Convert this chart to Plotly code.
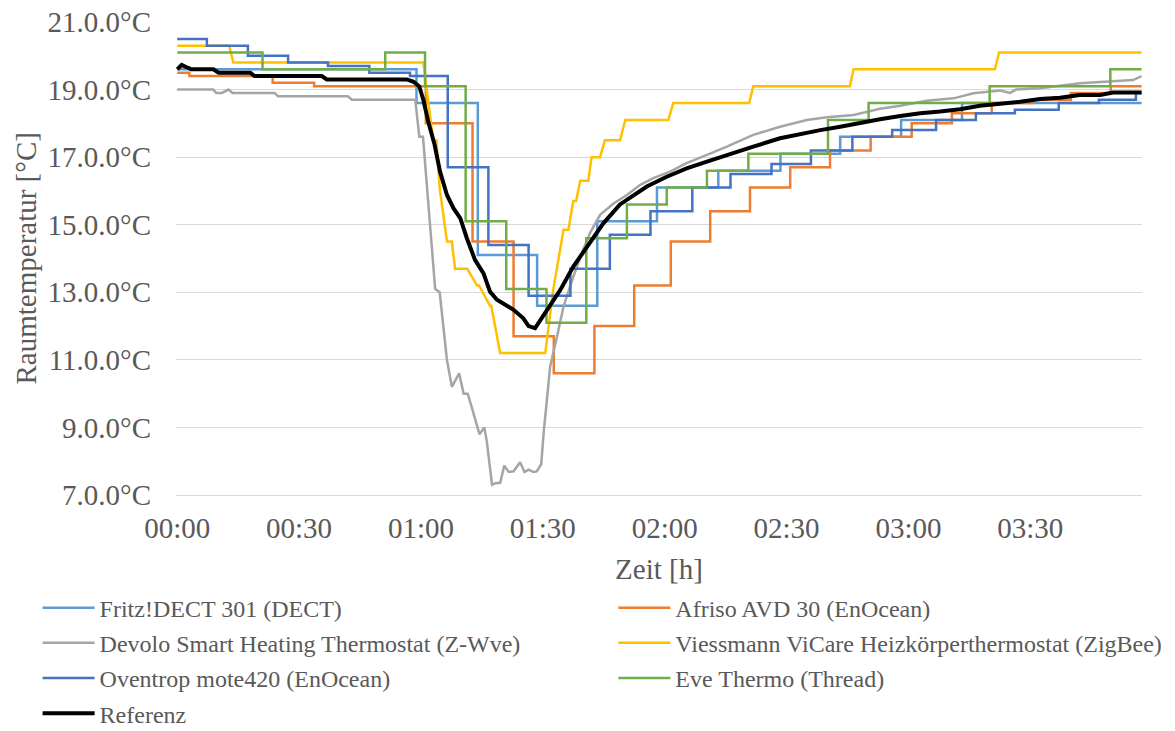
import plotly.graph_objects as go

# ---------------- data ----------------
time_ticks = [0, 30, 60, 90, 120, 150, 180, 210]
time_labels = ["00:00", "00:30", "01:00", "01:30", "02:00", "02:30", "03:00", "03:30"]
temp_ticks = [7, 9, 11, 13, 15, 17, 19, 21]
temp_labels = ["7.0.0°C", "9.0.0°C", "11.0.0°C", "13.0.0°C", "15.0.0°C",
               "17.0.0°C", "19.0.0°C", "21.0.0°C"]

# step series: time (min) at which the value changes, and the new value
fritz_t = [0, 58.9, 74.0, 88.6, 103.4, 118.1, 133.2, 148.5, 163.2, 178.2, 193.2, 237.4]
fritz_v = [19.6, 18.6, 14.1, 12.6, 15.1, 16.1, 16.6, 17.1, 17.6, 18.1, 18.6, 18.6]

afriso_t = [0, 3.0, 23.5, 33.7, 61.2, 72.7, 82.8, 92.7, 102.7, 112.5, 121.5, 131.2,
            141.0, 150.9, 160.7, 170.7, 180.8, 190.7, 200.5, 210.5, 220.0, 229.8, 237.4]
afriso_v = [19.5, 19.4, 19.2, 19.1, 18.0, 14.5, 11.7, 10.6, 12.0, 13.2, 14.5, 15.4,
            16.1, 16.7, 17.2, 17.6, 18.0, 18.3, 18.6, 18.7, 18.9, 19.1, 19.1]

oventrop_t = [0, 7.3, 17.4, 27.3, 37.1, 47.3, 57.3, 66.6, 76.6, 86.5, 96.8, 106.5,
              116.5, 126.8, 136.2, 146.3, 156.0, 166.2, 176.0, 186.8, 196.6, 206.2,
              217.0, 226.9, 236.0, 237.4]
oventrop_v = [20.5, 20.3, 20.0, 19.8, 19.7, 19.5, 19.4, 16.7, 14.4, 12.9, 13.7, 14.7,
              15.4, 16.1, 16.5, 16.8, 17.2, 17.6, 17.8, 18.1, 18.3, 18.4,
              18.6, 18.7, 18.9, 18.9]

eve_t = [0, 21.0, 51.2, 61.0, 71.0, 81.0, 90.9, 100.7, 110.7, 120.5, 130.4, 140.6,
         160.2, 170.2, 200.0, 229.7, 237.4]
eve_v = [20.1, 19.6, 20.1, 19.1, 15.1, 13.1, 12.1, 14.6, 15.6, 16.1, 16.6, 17.1,
         18.1, 18.6, 19.1, 19.6, 19.6]

# piecewise-linear series
viessmann_t = [0, 12.8, 13.8, 60.6, 63.0, 63.8, 64.6, 66.4, 67.6, 68.4, 71.4, 73.8,
               74.3, 77.0, 77.3, 79.5, 90.6, 92.6, 95.1, 96.3, 97.5, 98.2, 99.2,
               101.2, 102.0, 104.1, 105.3, 109.0, 110.3, 120.9, 122.1, 140.8, 141.8,
               165.6, 166.5, 201.3, 202.3, 237.4]
viessmann_v = [20.3, 20.3, 19.8, 19.8, 17.5, 17.5, 16.1, 14.5, 14.5, 13.7, 13.7, 13.2,
               13.2, 12.6, 12.6, 11.2, 11.2, 13.1, 14.85, 14.85, 15.7, 15.7, 16.3,
               16.3, 17.0, 17.0, 17.5, 17.5, 18.1, 18.1, 18.6, 18.6, 19.1,
               19.1, 19.6, 19.6, 20.1, 20.1]

devolo_t = [0, 8.9, 9.6, 11.0, 12.6, 13.6, 24.0, 24.8, 42.0, 43.0, 58.6, 59.6, 60.5,
            63.5, 64.6, 66.4, 67.6, 69.4, 70.5, 71.5, 72.5, 74.4, 75.6, 76.2, 77.5,
            78.3, 79.5, 80.5, 81.6, 82.8, 84.4, 85.5, 86.5, 87.7, 88.5, 89.6, 90.2,
            91.0, 91.8, 93.5, 95.1, 97.5, 99.6, 101.6, 104.1, 107.4, 110.7, 114.0,
            117.2, 121.3, 125.4, 130.4, 135.3, 141.8, 148.4, 155.0, 159.9, 166.5,
            173.0, 178.0, 184.5, 191.1, 196.0, 202.6, 205.0, 206.5, 212.4, 222.2,
            235.3, 237.4]
devolo_v = [19.0, 19.0, 18.9, 18.9, 19.0, 18.9, 18.9, 18.8, 18.8, 18.7, 18.7, 17.6, 17.6,
            13.1, 13.0, 11.0, 10.2, 10.6, 10.0, 10.0, 9.6, 8.8, 9.0, 8.6, 7.3,
            7.35, 7.36, 7.87, 7.68, 7.70, 7.97, 7.68, 7.75, 7.68, 7.70, 7.91, 8.83,
            9.9, 10.8, 11.69, 12.58, 13.46, 14.16, 14.75, 15.29, 15.63, 15.88, 16.18,
            16.38, 16.57, 16.82, 17.07, 17.31, 17.66, 17.9, 18.1, 18.18, 18.25,
            18.43, 18.52, 18.67, 18.74, 18.89, 18.97, 18.9, 19.0, 19.04, 19.19,
            19.28, 19.4]

ref_t = [0, 1.1, 2.7, 3.5, 8.9, 10.2, 18.0, 19.0, 35.6, 36.8, 56.5, 58.2, 59.6, 60.6,
         61.9, 63.3, 64.7, 66.4, 68.0, 69.7, 71.3, 73.3, 75.4, 77.0, 78.7, 80.7, 82.8,
         85.2, 86.5, 88.1, 91.0, 94.3, 97.5, 100.8, 104.9, 109.0, 112.3, 115.6, 120.5,
         125.4, 130.4, 135.3, 141.8, 148.4, 153.3, 158.3, 163.2, 168.1, 173.0, 178.0,
         182.9, 187.8, 192.7, 197.6, 202.6, 207.5, 212.4, 217.3, 222.2, 227.2, 230.4,
         237.4]
ref_v = [19.6, 19.73, 19.64, 19.6, 19.6, 19.5, 19.5, 19.4, 19.4, 19.3, 19.3, 19.23, 19.09,
         18.69, 18.0, 17.4, 16.57, 15.88, 15.49, 15.19, 14.6, 13.96, 13.56, 13.02, 12.78,
         12.63, 12.48, 12.23, 12.0, 11.94, 12.48, 13.07, 13.76, 14.35, 15.04, 15.6,
         15.88, 16.13, 16.42, 16.67, 16.87, 17.07, 17.31, 17.56, 17.69, 17.8, 17.9,
         18.02, 18.12, 18.22, 18.3, 18.35, 18.42, 18.52, 18.57, 18.64, 18.72, 18.76,
         18.84, 18.84, 18.91, 18.91]

# ---------------- figure ----------------
FONT = "Liberation Serif"
TXT = "#595959"

series = [
    ("Fritz!DECT 301 (DECT)", fritz_t, fritz_v, "#5B9BD5", 2.5, "hv", "legend"),
    ("Afriso AVD 30 (EnOcean)", afriso_t, afriso_v, "#ED7D31", 2.5, "hv", "legend2"),
    ("Devolo Smart Heating Thermostat (Z-Wve)", devolo_t, devolo_v, "#A5A5A5", 2.5, "linear", "legend"),
    ("Viessmann ViCare Heizkörperthermostat (ZigBee)", viessmann_t, viessmann_v, "#FFC000", 2.5, "linear", "legend2"),
    ("Oventrop mote420 (EnOcean)", oventrop_t, oventrop_v, "#4472C4", 2.5, "hv", "legend"),
    ("Eve Thermo (Thread)", eve_t, eve_v, "#70AD47", 2.5, "hv", "legend2"),
    ("Referenz", ref_t, ref_v, "#000000", 4, "linear", "legend"),
]

fig = go.Figure()
for i, (name, t, v, col, w, shape, leg) in enumerate(series):
    fig.add_trace(go.Scatter(
        x=t, y=v, name=name, mode="lines",
        line=dict(color=col, width=w, shape=shape),
        legend=leg, legendgroup=f"g{i}",
    ))

fig.update_layout(
    width=1175, height=731,
    margin=dict(l=176, r=33, t=22, b=236, autoexpand=False),
    paper_bgcolor="white", plot_bgcolor="white",
    font=dict(family=FONT, color=TXT, size=29),
    xaxis=dict(
        range=[-0.3, 237.5], automargin=False,
        tickmode="array", tickvals=time_ticks, ticktext=time_labels,
        showgrid=False, zeroline=False,
        showline=True, linecolor="#D9D9D9", linewidth=1,
        ticks="", ticklabelstandoff=7,
        tickfont=dict(family=FONT, size=29, color=TXT),
        title=dict(text="Zeit [h]", font=dict(family=FONT, size=29, color=TXT), standoff=15),
    ),
    yaxis=dict(
        range=[7, 21], automargin=False,
        tickmode="array", tickvals=temp_ticks, ticktext=temp_labels,
        showgrid=True, gridcolor="#D9D9D9", gridwidth=1,
        zeroline=False, showline=False, ticks="", ticklabelstandoff=24,
        tickfont=dict(family=FONT, size=29, color=TXT),
    ),
    annotations=[dict(
        text="Raumtemperatur [°C]", textangle=-90,
        xref="paper", yref="paper", x=(25 - 176) / 966, y=0.5,
        xanchor="center", yanchor="middle", showarrow=False,
        font=dict(family=FONT, size=29, color=TXT),
    )],
    legend=dict(
        xref="container", yref="container", x=0.032, y=0.199,
        xanchor="left", yanchor="top",
        orientation="v", itemwidth=52, tracegroupgap=1,
        font=dict(family=FONT, size=24, color=TXT),
        bgcolor="rgba(0,0,0,0)",
    ),
    legend2=dict(
        xref="container", yref="container", x=0.522, y=0.199,
        xanchor="left", yanchor="top",
        orientation="v", itemwidth=52, tracegroupgap=1,
        font=dict(family=FONT, size=24, color=TXT),
        bgcolor="rgba(0,0,0,0)",
    ),
    showlegend=True,
)

fig.write_html("out.html", config={"displayModeBar": False},
               post_script="document.body.style.margin='0';")
